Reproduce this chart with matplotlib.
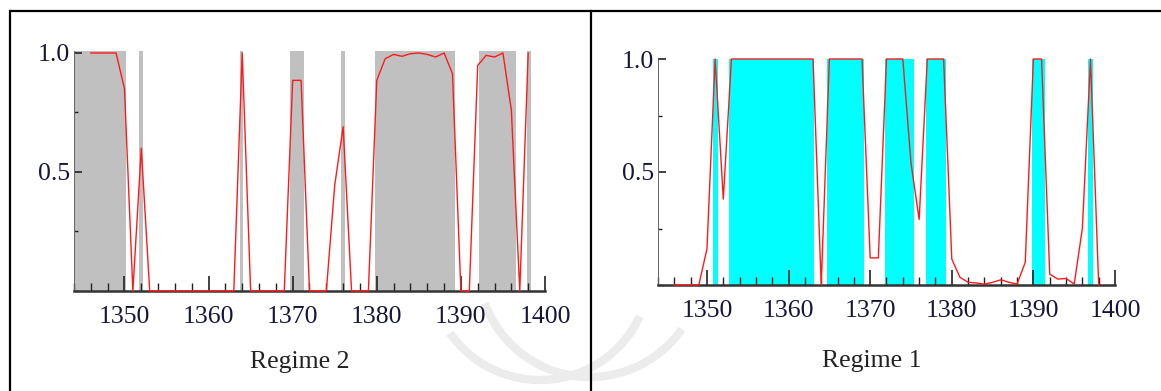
import matplotlib.pyplot as plt
from matplotlib.patches import Arc
from matplotlib.ticker import MultipleLocator

plt.rcParams['font.family'] = ['Liberation Serif', 'DejaVu Serif']

# years of the smoothed probabilities
years = list(range(1346, 1399))

# regime 2 probability (left panel)
regime2 = [1.0, 1.0, 1.0, 1.0, 0.85, 0.0, 0.6, 0.0, 0.0, 0.0,
           0.0, 0.0, 0.0, 0.0, 0.0, 0.0, 0.0, 0.0, 1.0, 0.0,
           0.0, 0.0, 0.0, 0.0, 0.885, 0.885, 0.0, 0.0, 0.0, 0.445,
           0.69, 0.0, 0.0, 0.0, 0.885, 0.976, 0.994, 0.986, 0.997, 1.0,
           0.994, 0.983, 1.0, 0.913, 0.0, 0.0, 0.948, 0.99, 0.983, 1.0,
           0.76, 0.0, 1.0]

# regime 1 probability (right panel)
regime1 = [0.0, 0.0, 0.0, 0.0, 0.16, 1.0, 0.38, 1.0, 1.0, 1.0,
           1.0, 1.0, 1.0, 1.0, 1.0, 1.0, 1.0, 1.0, 0.0, 1.0,
           1.0, 1.0, 1.0, 1.0, 0.12, 0.12, 1.0, 1.0, 1.0, 0.54,
           0.29, 1.0, 1.0, 1.0, 0.115, 0.034, 0.012, 0.009, 0.004, 0.012,
           0.023, 0.012, 0.004, 0.10, 1.0, 1.0, 0.048, 0.026, 0.029, 0.004,
           0.25, 1.0, 0.0]

# shaded periods classified in each regime
gray_spans = [(1344.0, 1350.2), (1351.75, 1352.2), (1363.7, 1364.15),
              (1369.7, 1371.3), (1375.8, 1376.25), (1379.8, 1389.3),
              (1392.2, 1396.6), (1397.9, 1398.35)]
cyan_spans = [(1350.8, 1351.3), (1352.7, 1363.1), (1364.7, 1369.3),
              (1371.8, 1375.4), (1376.9, 1379.3), (1389.8, 1391.4),
              (1396.75, 1397.25)]

x_ticks = [1350, 1360, 1370, 1380, 1390, 1400]
y_ticks = [0.5, 1.0]
captions = ['Regime 2', 'Regime 1']

W, H = 1161, 391
fig = plt.figure(figsize=(W / 100, H / 100), dpi=100)

# table frame + faint watermark, drawn in pixel coordinates
bg = fig.add_axes([0, 0, 1, 1])
bg.set_xlim(0, W)
bg.set_ylim(H, 0)
bg.axis('off')
bg.add_patch(Arc((540, 270), 220, 220, theta1=25, theta2=145,
                 color='#ececec', lw=6, zorder=0))
bg.add_patch(Arc((590, 265), 224, 224, theta1=35, theta2=160,
                 color='#ececec', lw=6, zorder=0))
bg.plot([10, W], [11, 11], color='black', lw=1.6, solid_capstyle='butt')
bg.plot([10, 10], [11, H], color='black', lw=1.6)
bg.plot([591, 591], [11, H], color='black', lw=1.6)


def fill_panel(ax, prob, spans, shade, top):
    for a, b in spans:
        ax.axvspan(a, b, color=shade, lw=0, zorder=1)
    ax.plot(years, prob, color='#ff1a1a', lw=1.0, zorder=4, clip_on=False)
    ax.set_xlim(1344, 1400)
    ax.set_ylim(0, top)
    ax.set_xticks(x_ticks)
    ax.set_yticks(y_ticks)
    ax.set_yticklabels(['0.5', '1.0'])
    ax.xaxis.set_minor_locator(MultipleLocator(2))
    ax.yaxis.set_minor_locator(MultipleLocator(0.25))
    ax.spines['top'].set_visible(False)
    ax.spines['right'].set_visible(False)
    ax.spines['bottom'].set_linewidth(1.8)
    ax.spines['bottom'].set_color('#333333')
    ax.spines['bottom'].set_zorder(3)
    ax.spines['left'].set_linewidth(0.7)
    ax.spines['left'].set_color('#666666')
    ax.tick_params(axis='x', which='major', direction='in', length=11,
                   width=1.2, color='#222222', pad=11, labelsize=18.5,
                   labelcolor='#15153a')
    ax.tick_params(axis='x', which='minor', direction='in', length=6,
                   width=1.0, color='#222222')
    ax.tick_params(axis='y', which='major', direction='in', length=6,
                   width=1.2, color='#222222', pad=3, labelsize=18.5,
                   labelcolor='#15153a')
    ax.tick_params(axis='y', which='minor', direction='in', length=3,
                   width=1.0, color='#222222')
    ax.patch.set_alpha(0)


ax_left = fig.add_axes([74 / W, 1 - 291 / H, 471 / W, 240.4 / H])
fill_panel(ax_left, regime2, gray_spans, '#c0c0c0', 1.01)

ax_right = fig.add_axes([658 / W, 1 - 285 / H, 457 / W, 226 / H])
fill_panel(ax_right, regime1, cyan_spans, '#00ffff', 1.0)

bg.text(300, 362, captions[0], ha='center', va='center', fontsize=18.5,
        color='#222222')
bg.text(872, 361, captions[1], ha='center', va='center', fontsize=18.5,
        color='#222222')

fig.savefig('out.png', dpi=100)
